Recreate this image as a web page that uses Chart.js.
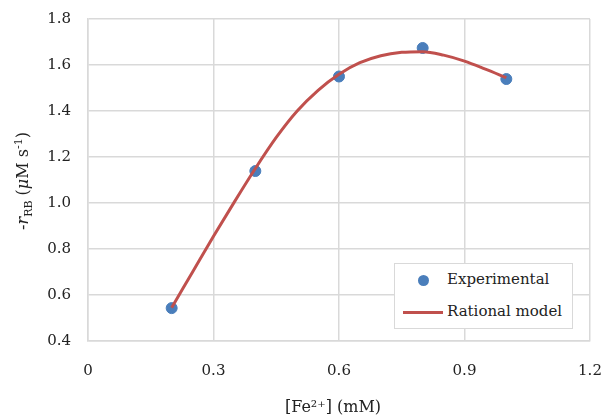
<!DOCTYPE html>
<html lang="en">
<head>
    <meta charset="UTF-8">
    <title>Rate vs Fe2+</title>
    <script src="https://cdn.jsdelivr.net/npm/chart.js"></script>
    <style>
        body {
            margin: 0;
            background: #fff;
        }
        .wrap {
            position: relative;
            width: 603px;
            height: 419px;
        }
        .legend {
            position: absolute;
            left: 394px;
            top: 263px;
            width: 177px;
            height: 64px;
            background: #fff;
            border: 1px solid #d9d9d9;
            font-family: 'DejaVu Serif', serif;
            font-size: 15px;
            color: #222;
        }
        .legend .row {
            position: absolute;
            left: 52px;
            white-space: nowrap;
        }
        .legend .dot {
            position: absolute;
            left: 23px;
            top: 11px;
            width: 11px;
            height: 11px;
            border-radius: 50%;
            background: #4a7ebb;
        }
        .legend .line {
            position: absolute;
            left: 8px;
            top: 47px;
            width: 40px;
            height: 3px;
            background: #c0504d;
        }
    </style>
</head>
<body>
<div class="wrap">
    <canvas id="chart" width="603" height="419"></canvas>
    <div class="legend">
        <span class="dot"></span>
        <span class="row" style="top:6px">Experimental</span>
        <span class="line"></span>
        <span class="row" style="top:38px">Rational model</span>
    </div>
</div>
<script>
    // measured points
    const feConc = [0.2, 0.4, 0.6, 0.8, 1.0];
    const rateExp = [0.543, 1.139, 1.55, 1.674, 1.539];

    // fitted rational model
    const modelConc = [0.2, 0.25, 0.3, 0.35, 0.4, 0.45, 0.5, 0.55, 0.6, 0.65, 0.7, 0.75, 0.8, 0.85, 0.9, 0.95, 1.0];
    const modelRate = [0.545, 0.70, 0.855, 1.005, 1.15, 1.285, 1.40, 1.49, 1.56, 1.61, 1.64, 1.655, 1.658, 1.643, 1.617, 1.582, 1.545];

    const xTicks = [0, 0.3, 0.6, 0.9, 1.2];

    const FONT = "'DejaVu Serif', serif";
    const gridColor = '#d9d9d9';

    // axis titles with sub/superscripts
    const titlePlugin = {
        id: 'axisTitles',
        afterDraw(chart) {
            const ctx = chart.ctx;
            ctx.save();
            ctx.fillStyle = '#222';
            ctx.textBaseline = 'alphabetic';

            // x title: [Fe2+] (mM)
            ctx.font = '16px ' + FONT;
            ctx.textAlign = 'center';
            ctx.fillText('[Fe\u00B2\u207A] (mM)', 333, 412);

            // y title: -r_RB (μM s^-1), rotated
            const parts = [
                { t: '-', f: '16px ' + FONT, dy: 0 },
                { t: 'r', f: 'italic 16px ' + FONT, dy: 0 },
                { t: 'RB', f: '11px ' + FONT, dy: 4 },
                { t: ' (', f: '16px ' + FONT, dy: 0 },
                { t: '\u03BC', f: 'italic 16px ' + FONT, dy: 0 },
                { t: 'M s', f: '16px ' + FONT, dy: 0 },
                { t: '-1', f: '11px ' + FONT, dy: -6 },
                { t: ')', f: '16px ' + FONT, dy: 0 }
            ];
            let total = 0;
            parts.forEach(p => { ctx.font = p.f; p.w = ctx.measureText(p.t).width; total += p.w; });
            ctx.translate(28, 181);
            ctx.rotate(-Math.PI / 2);
            ctx.textAlign = 'left';
            let x = -total / 2;
            parts.forEach(p => {
                ctx.font = p.f;
                ctx.fillText(p.t, x, p.dy);
                x += p.w;
            });
            ctx.restore();
        }
    };

    new Chart(document.getElementById('chart'), {
        type: 'scatter',
        data: {
            datasets: [
                {
                    label: 'Rational model',
                    type: 'line',
                    data: modelConc.map((c, i) => ({ x: c, y: modelRate[i] })),
                    borderColor: '#c0504d',
                    borderWidth: 3,
                    pointRadius: 0,
                    cubicInterpolationMode: 'monotone',
                    fill: false,
                    order: 0
                },
                {
                    label: 'Experimental',
                    data: feConc.map((c, i) => ({ x: c, y: rateExp[i] })),
                    backgroundColor: '#4a7ebb',
                    borderColor: '#4a7ebb',
                    pointRadius: 5.5,
                    order: 1
                }
            ]
        },
        options: {
            responsive: false,
            animation: false,
            layout: { padding: { left: 0, right: 13, top: 19, bottom: 0 } },
            plugins: {
                legend: { display: false },
                tooltip: { enabled: false }
            },
            scales: {
                x: {
                    type: 'linear',
                    min: 0,
                    max: 1.2,
                    afterBuildTicks: s => { s.ticks = xTicks.map(v => ({ value: v })); },
                    afterFit: s => { s.height = 78; s.paddingLeft = 0; s.paddingRight = 0; },
                    grid: { color: gridColor, lineWidth: 1.5, drawTicks: false },
                    border: { color: gridColor, width: 1.5 },
                    ticks: {
                        padding: 21,
                        color: '#222',
                        font: { family: FONT, size: 15 },
                        callback: v => v === 0 ? '0' : v.toFixed(1)
                    }
                },
                y: {
                    min: 0.4,
                    max: 1.8,
                    afterFit: s => { s.width = 88; s.paddingTop = 0; s.paddingBottom = 0; },
                    grid: { color: gridColor, lineWidth: 1.5, drawTicks: false },
                    border: { color: gridColor, width: 1.5 },
                    ticks: {
                        stepSize: 0.2,
                        padding: 17,
                        color: '#222',
                        font: { family: FONT, size: 15 },
                        callback: v => v.toFixed(1)
                    }
                }
            }
        },
        plugins: [titlePlugin]
    });
</script>
</body>
</html>
